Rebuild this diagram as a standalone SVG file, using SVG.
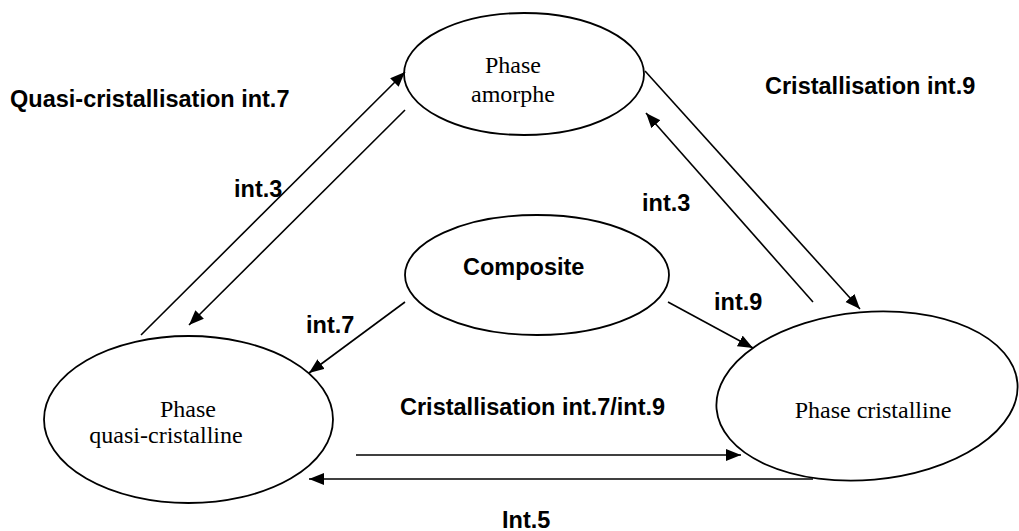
<svg xmlns="http://www.w3.org/2000/svg" width="1019" height="531" viewBox="0 0 1019 531">
<style>
.node{fill:none;stroke:#000;stroke-width:1.8}
.edge{stroke:#000;stroke-width:1.6;fill:none;marker-end:url(#ah)}
.lbl{font-family:"Liberation Sans",Arial,sans-serif;font-weight:bold;font-size:23.5px;fill:#000}
.nt{font-family:"Liberation Serif","Times New Roman",serif;font-size:24px;fill:#000;text-anchor:middle}
</style>
<defs>
<marker id="ah" markerUnits="userSpaceOnUse" markerWidth="16" markerHeight="13" refX="15" refY="6" orient="auto">
<path d="M0,0 L15,6 L0,12 Z" fill="#000"/>
</marker>
</defs>
<rect width="1019" height="531" fill="#fff"/>
<g id="amorphe">
<ellipse class="node" cx="524" cy="74" rx="120" ry="61"/>
<text class="nt" x="513" y="73">Phase</text>
<text class="nt" x="513" y="102">amorphe</text>
</g>
<g id="composite">
<ellipse class="node" cx="537" cy="275" rx="132" ry="60"/>
<text class="lbl" x="463" y="275">Composite</text>
</g>
<g id="quasi">
<ellipse class="node" cx="188.5" cy="419.5" rx="144.5" ry="83.5"/>
<text class="nt" x="188" y="417">Phase</text>
<text class="nt" x="166" y="443">quasi-cristalline</text>
</g>
<g id="cristalline">
<ellipse class="node" cx="867" cy="396" rx="151" ry="84" transform="rotate(-5 867 396)"/>
<text class="nt" x="873" y="418">Phase cristalline</text>
</g>
<g id="connectors">
<line class="edge" x1="141" y1="335" x2="405" y2="72"/>
<line class="edge" x1="405" y1="110" x2="189" y2="325"/>
<line class="edge" x1="645" y1="71" x2="860" y2="309"/>
<line class="edge" x1="813" y1="302" x2="646" y2="113"/>
<line class="edge" x1="405" y1="302" x2="309" y2="373"/>
<line class="edge" x1="668" y1="302" x2="753" y2="348"/>
<line class="edge" x1="356" y1="455" x2="741" y2="455"/>
<line class="edge" x1="813" y1="479" x2="309" y2="479"/>
</g>
<g id="labels">
<text class="lbl" x="10" y="107">Quasi-cristallisation int.7</text>
<text class="lbl" x="765" y="94">Cristallisation int.9</text>
<text class="lbl" x="234" y="197">int.3</text>
<text class="lbl" x="642" y="211">int.3</text>
<text class="lbl" x="714" y="310">int.9</text>
<text class="lbl" x="306" y="333">int.7</text>
<text class="lbl" x="400" y="415">Cristallisation int.7/int.9</text>
<text class="lbl" x="502" y="528" font-size="22.5">Int.5</text>
</g>
</svg>
